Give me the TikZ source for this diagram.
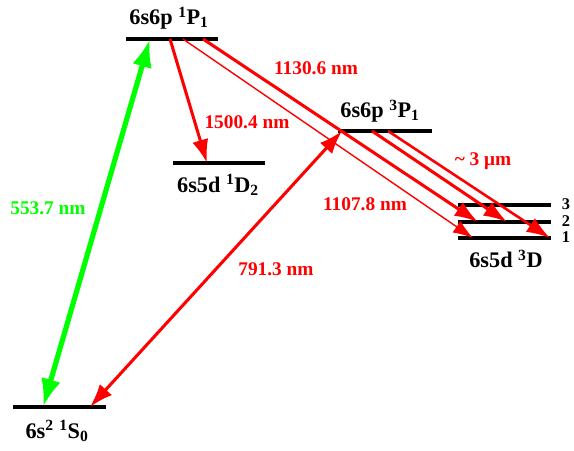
\documentclass[tikz,border=0pt]{standalone}
\usepackage{fontspec}
\setmainfont{Liberation Serif}
\usetikzlibrary{arrows.meta}

\newcommand\up[1]{\textsuperscript{#1}}
\newcommand\dn[1]{\textsubscript{#1}}

\tikzset{
  level/.style={line width=3.4pt},
  lvllabel/.style={font=\fontsize{19}{20}\selectfont\bfseries},
  jlabel/.style={font=\fontsize{14}{14}\selectfont\bfseries},
  wavelabel/.style={font=\fontsize{16.5}{18}\selectfont\bfseries, text=red},
  redthick/.style={draw=red, line width=2.6pt, -{Latex[length=20pt,width=14pt]}},
  redthin/.style={draw=red, line width=1.2pt, -{Latex[length=17pt,width=12pt]}},
  greenarrow/.style={draw=green, line width=4.4pt, {Latex[length=24pt,width=17pt]}-{Latex[length=24pt,width=17pt]}}
}

\begin{document}
\begin{tikzpicture}[x=0.03cm, y=-0.03cm]
  \useasboundingbox (0,0) rectangle (574,451);

  % levels
  \draw[level] (126,39) -- (218,39);
  \draw[level] (173,163) -- (265,163);
  \draw[level] (338,131) -- (432,131);
  \draw[level] (458,205) -- (551,205);
  \draw[level] (458,222) -- (551,222);
  \draw[level] (458,238) -- (551,238);
  \draw[level] (13,407) -- (106,407);

  % points on the levels
  \coordinate (pA) at (150,39);
  \coordinate (pB) at (170,39);
  \coordinate (pC) at (183,39);
  \coordinate (pD) at (203,39);
  \coordinate (dA) at (207,163);
  \coordinate (tA) at (342,131);
  \coordinate (tB) at (372,131);
  \coordinate (tC) at (388,131);
  \coordinate (jA) at (478,222);
  \coordinate (jB) at (507,222);
  \coordinate (jC) at (473,238);
  \coordinate (jD) at (550,238);
  \coordinate (sA) at (43,407);
  \coordinate (sB) at (90,407);

  % level labels
  \node[lvllabel] (lP1) at (169,18) {6s6p \up{1}P\dn{1}};
  \node[lvllabel] (lD2) at (218,185) {6s5d \up{1}D\dn{2}};
  \node[lvllabel] (lP3) at (380,111) {6s6p \up{3}P\dn{1}};
  \node[lvllabel] (lD3) at (506,259) {6s5d \up{3}D};
  \node[lvllabel] (lS0) at (57,431) {6s\up{2} \up{1}S\dn{0}};
  \node[jlabel] (j3) at (566,204) {3};
  \node[jlabel] (j2) at (566,221) {2};
  \node[jlabel] (j1) at (566,237) {1};

  % transitions
  \draw[greenarrow] (sA) -- (pA);
  \draw[redthick] (pB) -- (dA);
  \draw[redthick, {Latex[length=20pt,width=14pt]}-{Latex[length=20pt,width=14pt]}] (sB) -- (tA);
  \draw[redthick] (pD) -- (jA);
  \draw[redthin] (pC) -- (jC);
  \draw[redthick] (tB) -- (jB);
  \draw[redthick, line width=2.2pt] (tC) -- (jD);

  % wavelengths
  \node[wavelabel] (w1) at (316,68) {1130.6 nm};
  \node[wavelabel] (w2) at (247,122) {1500.4 nm};
  \node[wavelabel] (w3) at (483,161) {\textasciitilde{} 3 μm};
  \node[wavelabel] (w4) at (365,204) {1107.8 nm};
  \node[wavelabel] (w5) at (276,269) {791.3 nm};
  \node[wavelabel, text=green] (w6) at (48,208) {553.7 nm};
\end{tikzpicture}
\end{document}
